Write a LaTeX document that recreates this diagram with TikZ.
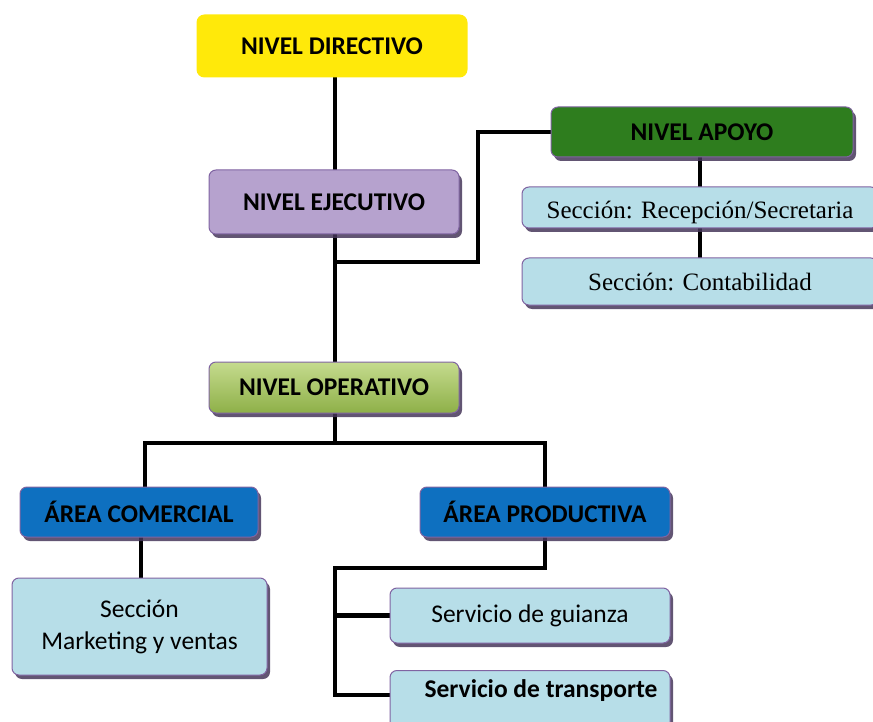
\documentclass[tikz,border=0pt]{standalone}
\usepackage{fontspec}
\setmainfont{Carlito}
\newfontfamily\tnr{Liberation Serif}
\usetikzlibrary{shadows,backgrounds}
\definecolor{cyel}{RGB}{255,233,10}
\definecolor{clav}{RGB}{182,162,206}
\definecolor{cgrn}{RGB}{46,125,30}
\definecolor{clb}{RGB}{183,222,232}
\definecolor{cblu}{RGB}{14,112,192}
\definecolor{cbor}{RGB}{128,100,162}
\definecolor{cshd}{RGB}{70,55,90}
\definecolor{copt}{RGB}{197,219,142}
\definecolor{copb}{RGB}{142,176,72}
\tikzset{
  box/.style={rounded corners=7pt, draw=cbor, line width=1pt, align=center,
    drop shadow={shadow xshift=3pt, shadow yshift=-4pt, fill=cshd, opacity=0.85}},
  head/.style={font=\fontsize{25.5}{27}\selectfont\bfseries},
  body/.style={font=\fontsize{25.5}{27}\selectfont},
  serif/.style={font=\tnr\fontsize{25}{27}\selectfont},
  conn/.style={line width=4.5pt, line cap=rect},
}
\begin{document}
\begin{tikzpicture}[x=1pt,y=-1pt]
\useasboundingbox (0,0) rectangle (873,722);
\clip (0,0) rectangle (873,722);
\node[rounded corners=8pt, fill=cyel, minimum width=271pt, minimum height=63pt, head] (dir) at (332,46) {NIVEL DIRECTIVO};
\node[box, fill=clav, minimum width=250pt, minimum height=64pt, head] (eje) at (334,202) {NIVEL EJECUTIVO};
\node[box, fill=cgrn, minimum width=302pt, minimum height=50pt, head] (apo) at (702,132) {NIVEL APOYO};
\node[box, fill=clb, minimum width=356pt, minimum height=41pt] (rec) at (700,207.5) {};
\node[serif] (rect) at (700,212) {Sección: Recepción/Secretaria};
\node[box, fill=clb, minimum width=356pt, minimum height=47pt, serif] (con) at (700,281.5) {Sección: Contabilidad};
\node[box, top color=copt, bottom color=copb, minimum width=250pt, minimum height=51pt, head] (ope) at (334,387.5) {NIVEL OPERATIVO};
\node[box, fill=cblu, minimum width=238pt, minimum height=50pt, head] (com) at (139,512) {ÁREA COMERCIAL};
\node[box, fill=clb, minimum width=255pt, minimum height=97pt, font=\fontsize{25.5}{32}\selectfont] (mkt) at (139.5,626.5) {Sección\\Marketing y ventas};
\node[box, fill=cblu, minimum width=250pt, minimum height=50pt, head] (pro) at (545,512) {ÁREA PRODUCTIVA};
\node[box, fill=clb, minimum width=280pt, minimum height=55pt, body] (gui) at (530,615.5) {Servicio de guianza};
\node[box, fill=clb, minimum width=280pt, minimum height=64pt, anchor=north] (tra) at (530,670) {};
\node[head] (trat) at (541,691) {Servicio de transporte};
% connectors
\begin{scope}[on background layer]
\draw[conn] (dir.south -| 335,0) -- (eje.north -| 335,0);
\draw[conn] (eje.south -| 335,0) -- (ope.north -| 335,0);
\coordinate (j1) at (335,262);
\draw[conn] (j1) -- (478,262) |- (apo.west);
\draw[conn] (apo.south -| 700,0) -- (rec.north -| 700,0);
\draw[conn] (rec.south -| 700,0) -- (con.north -| 700,0);
\coordinate (h) at (335,443);
\draw[conn] (ope.south -| h) -- (h);
\draw[conn] (com.north -| 145,0) |- (h) -| (pro.north -| 545,0);
\draw[conn] (com.south -| 141,0) -- (mkt.north -| 141,0);
\coordinate (t) at (335,568);
\draw[conn] (pro.south -| 545,0) |- (t) |- (tra.west |- 0,695);
\draw[conn] (t |- gui.west) -- (gui.west);
\end{scope}
\end{tikzpicture}
\end{document}
